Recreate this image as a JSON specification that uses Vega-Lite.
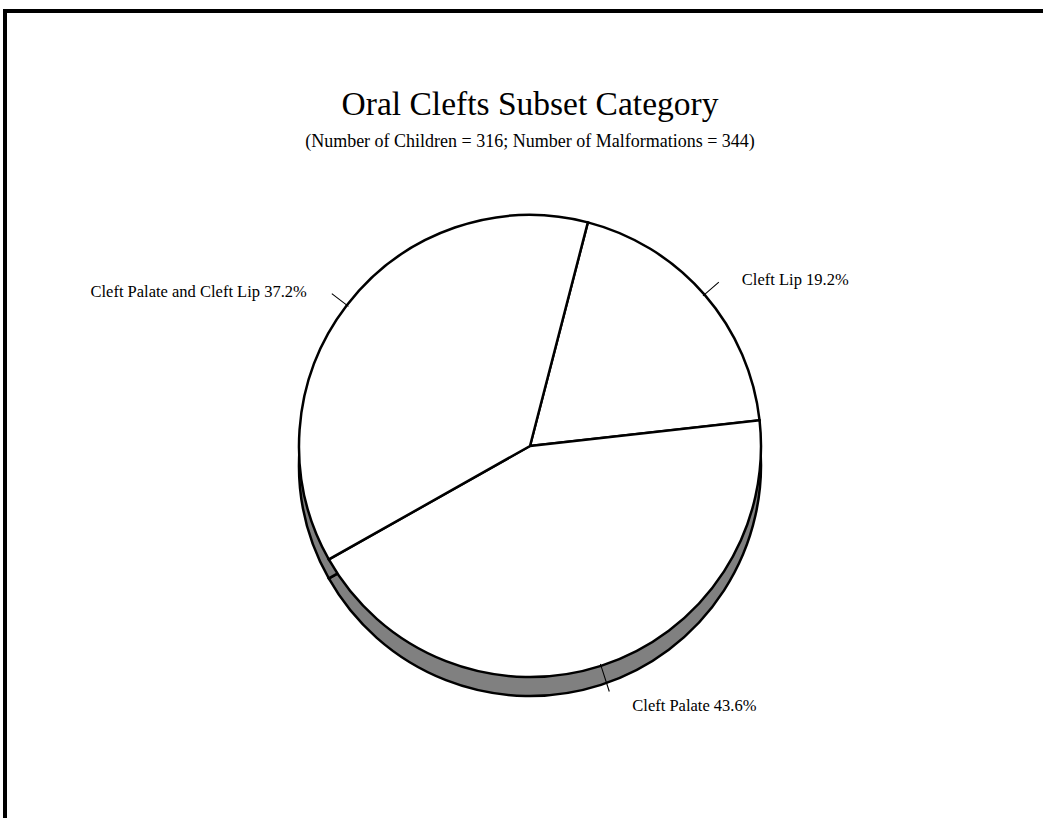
{
  "$schema": "https://vega.github.io/schema/vega-lite/v6.json",
  "width": 1050,
  "height": 870,
  "autosize": {"type": "none"},
  "padding": {"left": 5, "top": 11, "right": -12, "bottom": -63},
  "background": "white",
  "view": {"stroke": "black", "strokeWidth": 4, "fill": "white"},
  "title": {
    "text": "Oral Clefts Subset Category",
    "subtitle": "(Number of Children = 316; Number of Malformations = 344)",
    "font": "Liberation Serif",
    "fontSize": 33.5,
    "fontWeight": "normal",
    "color": "black",
    "subtitleFont": "Liberation Serif",
    "subtitleFontSize": 18,
    "subtitleFontWeight": "normal",
    "subtitleColor": "black",
    "subtitlePadding": 11,
    "anchor": "middle",
    "frame": "group",
    "offset": -141
  },
  "data": {
    "values": [
      {"category": "Cleft Lip", "pct": 19.2, "order": 1},
      {"category": "Cleft Palate", "pct": 43.6, "order": 2},
      {"category": "Cleft Palate and Cleft Lip", "pct": 37.2, "order": 3}
    ]
  },
  "transform": [
    {"stack": "pct", "groupby": [], "sort": [{"field": "order"}], "as": ["start", "end"]},
    {"calculate": "(datum.start + datum.end) / 2", "as": "mid"},
    {"calculate": "datum.mid - 0.035", "as": "t0"},
    {"calculate": "datum.mid + 0.035", "as": "t1"},
    {"calculate": "datum.category + ' ' + format(datum.pct, '.1f') + '%'", "as": "label"}
  ],
  "layer": [
    {
      "mark": {"type": "arc", "radius": 231, "yOffset": 19, "fill": "#808080", "stroke": "black", "strokeWidth": 2.5},
      "encoding": {
        "theta": {"field": "start", "type": "quantitative", "stack": null, "scale": {"domain": [0, 100], "range": [0.2531, 6.5363]}},
        "theta2": {"field": "end"}
      }
    },
    {
      "mark": {"type": "arc", "radius": 231, "fill": "white", "stroke": "black", "strokeWidth": 2.5},
      "encoding": {
        "theta": {"field": "start", "type": "quantitative", "stack": null},
        "theta2": {"field": "end"}
      }
    },
    {
      "transform": [{"filter": "datum.category != 'Cleft Palate'"}],
      "mark": {"type": "arc", "radius": 250, "radius2": 229, "fill": "black"},
      "encoding": {
        "theta": {"field": "t0", "type": "quantitative", "stack": null},
        "theta2": {"field": "t1"}
      }
    },
    {
      "transform": [{"filter": "datum.category == 'Cleft Palate'"}],
      "mark": {"type": "arc", "radius": 258, "radius2": 229, "fill": "black"},
      "encoding": {
        "theta": {"field": "t0", "type": "quantitative", "stack": null},
        "theta2": {"field": "t1"}
      }
    },
    {
      "transform": [{"filter": "datum.category == 'Cleft Lip'"}],
      "mark": {"type": "text", "radius": 250, "align": "left", "baseline": "alphabetic", "dx": 23, "dy": 3, "font": "Liberation Serif", "fontSize": 16.5, "color": "black"},
      "encoding": {
        "theta": {"field": "mid", "type": "quantitative", "stack": null},
        "text": {"field": "label"}
      }
    },
    {
      "transform": [{"filter": "datum.category == 'Cleft Palate and Cleft Lip'"}],
      "mark": {"type": "text", "radius": 250, "align": "right", "baseline": "alphabetic", "dx": -25, "dy": 3.5, "font": "Liberation Serif", "fontSize": 16.5, "color": "black"},
      "encoding": {
        "theta": {"field": "mid", "type": "quantitative", "stack": null},
        "text": {"field": "label"}
      }
    },
    {
      "transform": [{"filter": "datum.category == 'Cleft Palate'"}],
      "mark": {"type": "text", "radius": 258, "align": "left", "baseline": "alphabetic", "dx": 23, "dy": 19.5, "font": "Liberation Serif", "fontSize": 16.5, "color": "black"},
      "encoding": {
        "theta": {"field": "mid", "type": "quantitative", "stack": null},
        "text": {"field": "label"}
      }
    }
  ]
}
